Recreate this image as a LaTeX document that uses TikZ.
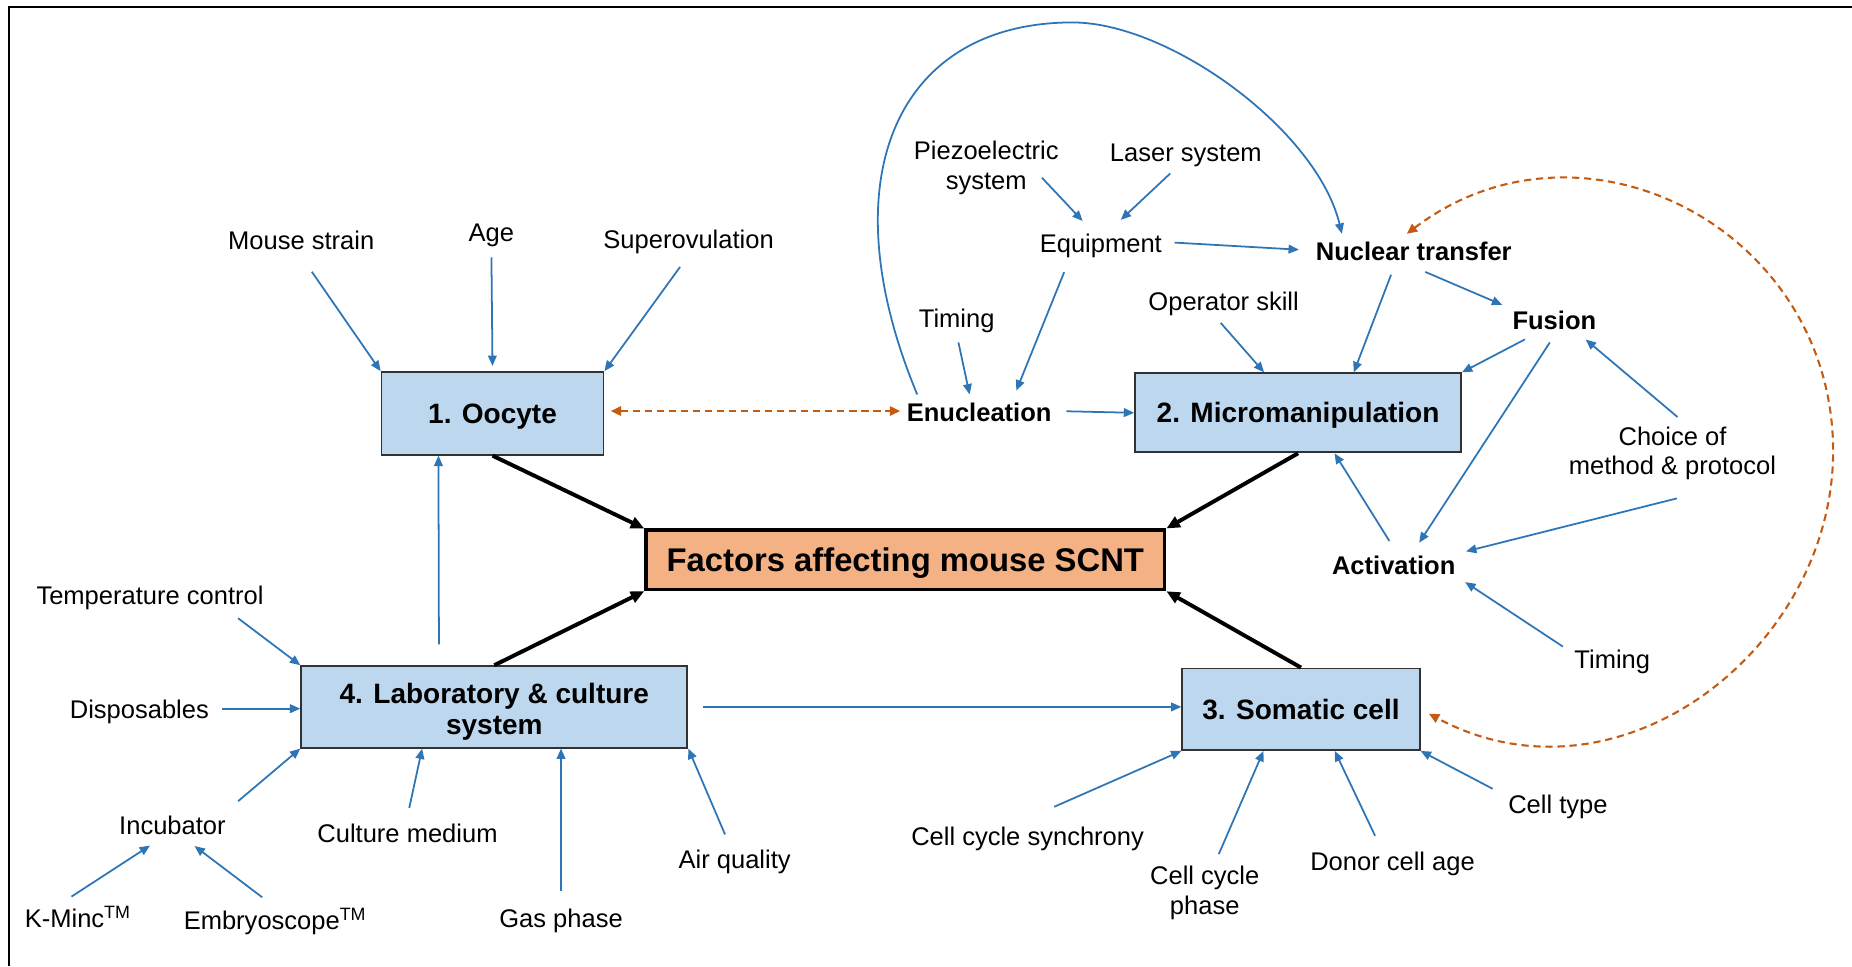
\documentclass[tikz,border=0pt]{standalone}
\usepackage{fontspec}
\setmainfont{Liberation Sans}
\usetikzlibrary{arrows.meta,calc}

\definecolor{arrowblue}{RGB}{46,117,182}
\definecolor{dashorange}{RGB}{197,90,17}
\definecolor{boxblue}{RGB}{189,215,238}
\definecolor{boxorange}{RGB}{244,177,131}
\definecolor{boxgray}{RGB}{50,50,50}

\begin{document}
\begin{tikzpicture}[x=0.02cm, y=-0.02cm,
    lbl/.style={inner sep=2pt, font=\fontsize{12.3}{14.2}\selectfont, text height=10.7pt, text depth=0.9pt},
    lbltwo/.style={inner sep=2pt, font=\fontsize{12.3}{14.2}\selectfont, align=center},
    blbl/.style={lbl, font=\fontsize{12.3}{14.2}\selectfont\bfseries},
    stage/.style={draw=boxgray, line width=0.9pt, fill=boxblue, align=center, font=\fontsize{13.5}{15.3}\selectfont\bfseries},
    oneline/.style={text height=10pt, text depth=0.3pt},
    barrow/.style={arrowblue, line width=0.85pt, -{Triangle[length=5pt,width=4.2pt]}, shorten <=4pt},
    karrow/.style={black, line width=1.9pt, -{Triangle[length=6.5pt,width=5.6pt]}},
    oarrow/.style={dashorange, line width=1pt, dash pattern=on 3.5pt off 2.3pt, {Triangle[length=5pt,width=4.5pt]}-{Triangle[length=5pt,width=4.5pt]}}]
    \useasboundingbox (0,0) rectangle (1568,818);
    \draw[line width=1pt] (8,818) -- (8,6) -- (1568,6);

    % the four stages and the centre box
    \node[stage, oneline, minimum width=3.76cm, minimum height=1.40cm] (oocyte) at (417,350) {1. Oocyte};
    \node[stage, oneline, minimum width=5.52cm, minimum height=1.34cm] (micro) at (1099,349.5) {2. Micromanipulation};
    \node[stage, oneline, minimum width=4.02cm, minimum height=1.38cm] (somatic) at (1101.5,600.5) {3. Somatic cell};
    \node[stage, minimum width=6.54cm, minimum height=1.38cm] (lab) at (418.5,598.5) {\rule{0pt}{14.5pt}4. Laboratory \& culture\\system};
    \node[draw=black, line width=1.8pt, fill=boxorange, minimum width=8.78cm, minimum height=1.0cm,
        text height=11.5pt, text depth=0.2pt, font=\fontsize{15.8}{18}\selectfont\bfseries] (scnt) at (766.5,474) {Factors affecting mouse SCNT};

    % factor labels
    \node[lbl] (mstrain) at (255,203) {Mouse strain};
    \node[lbl] (age) at (416,196) {Age};
    \node[lbl] (superov) at (583,202) {Superovulation};
    \node[lbltwo] (piezo) at (835,142) {Piezoelectric\\system};
    \node[lbl] (laser) at (1004,128) {Laser system};
    \node[lbl] (equip) at (932,205) {Equipment};
    \node[blbl] (nuctr) at (1197,212) {Nuclear transfer};
    \node[lbl] (timenuc) at (810,269) {Timing};
    \node[lbl] (opskill) at (1036,254) {Operator skill};
    \node[blbl] (fusion) at (1316,270) {Fusion};
    \node[blbl] (enuc) at (829,348) {Enucleation};
    \node[lbltwo] (choice) at (1416,384) {Choice of\\method \& protocol};
    \node[blbl] (activ) at (1180,478) {Activation};
    \node[lbl] (timeact) at (1365,557) {Timing};
    \node[lbl] (temp) at (127,503) {Temperature control};
    \node[lbl] (dispos) at (118,600) {Disposables};
    \node[lbl] (incub) at (146,698) {Incubator};
    \node[lbl] (medium) at (345,705) {Culture medium};
    \node[lbl] (air) at (622,727) {Air quality};
    \node[lbl] (kminc) at (66,777) {K-Minc\textsuperscript{TM}};
    \node[lbl] (embryo) at (233,778) {Embryoscope\textsuperscript{TM}};
    \node[lbl] (gas) at (475,777) {Gas phase};
    \node[lbl] (ccsync) at (870,707) {Cell cycle synchrony};
    \node[lbltwo] (ccphase) at (1020,756) {Cell cycle\\phase};
    \node[lbl] (donor) at (1179,728) {Donor cell age};
    \node[lbl] (celltype) at (1319,680) {Cell type};

    % oocyte
    \draw[barrow, shorten <=9pt] (mstrain.south) -- (oocyte.north west);
    \draw[barrow, shorten <=4.5pt, shorten >=2.5pt] (age.south) -- (oocyte.north);
    \draw[barrow, shorten <=7pt] (superov.south) -- (oocyte.north east);

    % micromanipulation
    \draw[barrow, shorten <=0pt, shorten >=3pt] ($(piezo.south east)+(-18,-18)$) -- (equip.130);
    \draw[barrow, shorten >=4pt] (laser.240) -- (equip.50);
    \draw[barrow, shorten >=6pt] (equip.east) -- (nuctr.west);
    \draw[barrow, shorten <=7pt, shorten >=2pt] (equip.208) -- (enuc.25);
    \draw[barrow] (timenuc.south) -- (enuc.120);
    \draw[barrow, shorten <=5pt] (enuc.east) -- (micro.west);
    \draw[barrow] (nuctr.220) -- (micro.36);
    \draw[barrow, shorten <=6pt, shorten >=3pt] (nuctr.south) -- (fusion.166);
    \draw[barrow] (opskill.243) -- (micro.130);
    \draw[barrow] (fusion.217) -- (micro.north east);
    \draw[barrow, shorten >=3pt] (fusion.south) -- (activ.37);
    \draw[barrow, shorten >=3pt] (choice.70) -- (fusion.-32);
    \draw[barrow, shorten <=27pt, shorten >=3pt] (choice.-28) -- (activ.10);
    \draw[barrow, shorten >=3pt] (timeact.171) -- (activ.-12);
    \draw[barrow] (activ.north) -- (micro.-48);
    \draw[arrowblue, line width=0.85pt, -{Triangle[length=5pt,width=4.2pt]}]
        (enuc.165) .. controls (700,150) and (760,19) .. (908,19)
        .. controls (990,19) and (1115,110) .. (nuctr.167);

    % dashed links
    \draw[oarrow, shorten <=3pt, shorten >=1pt] (oocyte.east |- enuc.west) -- (enuc.west);
    \draw[oarrow, shorten >=4.5pt] (nuctr.113) .. controls (1340,85) and (1552,194) .. (1552,382)
        .. controls (1552,550) and (1370,690) .. (somatic.east);

    % laboratory & culture
    \draw[barrow, shorten <=10pt] (lab.143) -- (oocyte.218);
    \draw[barrow, shorten <=7pt] (lab.east) -- (lab.east -| somatic.west);
    \draw[barrow, shorten <=6pt] (temp.-12) -- (lab.north west);
    \draw[barrow] (dispos.east) -- (dispos.east -| lab.west);
    \draw[barrow, shorten <=5pt] (incub.16) -- (lab.south west);
    \draw[barrow] (medium.north) -- (lab.210);
    \draw[barrow, shorten <=5pt] (gas.north) -- (gas.north |- lab.south);
    \draw[barrow] (air.111) -- (lab.south east);
    \draw[barrow, shorten >=4pt] (kminc.129) -- (incub.227);
    \draw[barrow, shorten >=4pt] (embryo.111) -- (incub.-47);

    % somatic cell
    \draw[barrow, shorten <=14pt] (ccsync.north) -- (somatic.south west);
    \draw[barrow] (ccphase.71) -- (somatic.228);
    \draw[barrow] (donor.130) -- (somatic.-51);
    \draw[barrow, shorten <=6pt] (celltype.171) -- (somatic.south east);

    % into the centre
    \draw[karrow] (oocyte.south) -- (scnt.north west);
    \draw[karrow] (micro.south) -- (scnt.north east);
    \draw[karrow] (lab.north) -- (scnt.south west);
    \draw[karrow] (somatic.north) -- (scnt.south east);
\end{tikzpicture}
\end{document}
